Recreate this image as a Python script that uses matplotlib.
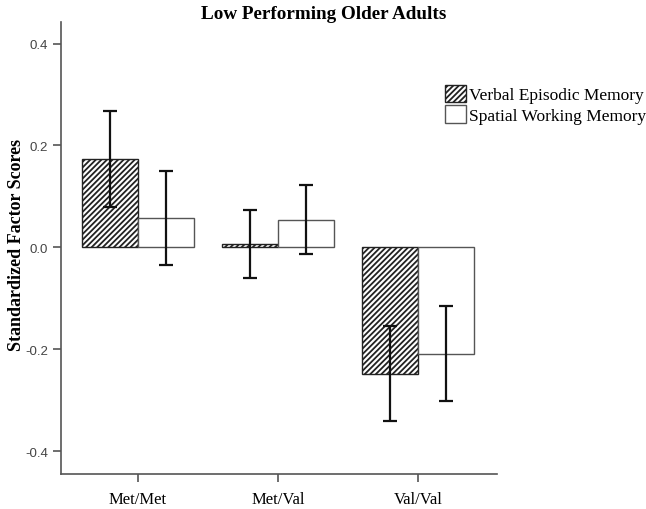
import matplotlib.pyplot as plt
from matplotlib.patches import Patch
import numpy as np

plt.rcParams['hatch.linewidth'] = 1.3

groups = ['Met/Met', 'Met/Val', 'Val/Val']
verbal = [0.174, 0.006, -0.248]
verbal_err = [0.094, 0.067, 0.093]
spatial = [0.057, 0.054, -0.209]
spatial_err = [0.092, 0.068, 0.093]
yticks = [-0.4, -0.2, 0.0, 0.2, 0.4]

serif = 'Liberation Serif'
sans = 'Liberation Sans'
edge = '#555555'

fig = plt.figure(figsize=(6.46, 5.10), dpi=100)
ax = fig.add_axes([0.0944, 0.0686, 0.6746, 0.887])

x = np.arange(len(groups))
w = 0.4
ax.bar(x - w/2, verbal, w, color='white', edgecolor='#222222', hatch='//////', linewidth=1.0)
ax.bar(x + w/2, spatial, w, color='white', edgecolor=edge, linewidth=1.0)
ax.errorbar(x - w/2, verbal, yerr=verbal_err, fmt='none', ecolor='#111111', elinewidth=1.6, capsize=5, capthick=1.6)
ax.errorbar(x + w/2, spatial, yerr=spatial_err, fmt='none', ecolor='#111111', elinewidth=1.6, capsize=5, capthick=1.6)

ax.set_xlim(-0.55, 2.56)
ax.set_ylim(-0.445, 0.443)
ax.set_xticks(x)
ax.set_xticklabels(groups, fontfamily=serif, fontsize=12)
ax.set_yticks(yticks)
ax.set_yticklabels([f'{v:.1f}' for v in yticks], fontfamily=sans, fontsize=9.5, color='#444444')
ax.tick_params(axis='both', length=6, width=1.2, color=edge)
ax.tick_params(axis='x', pad=6)
for s in ['top', 'right']:
    ax.spines[s].set_visible(False)
for s in ['left', 'bottom']:
    ax.spines[s].set_color(edge)
    ax.spines[s].set_linewidth(1.2)

# y label placed by hand, it sits close to the left edge
fig.text(17 / 646, 0.52, 'Standardized Factor Scores', fontfamily=serif, fontweight='bold',
         fontsize=13, rotation=90, ha='center', va='center')
fig.text(323.5 / 646, 0.962, 'Low Performing Older Adults', fontfamily=serif, fontweight='bold',
         fontsize=13.8, ha='center', va='baseline')

handles = [Patch(facecolor='white', edgecolor='#222222', hatch='//////', label='Verbal Episodic Memory'),
           Patch(facecolor='white', edgecolor=edge, label='Spatial Working Memory')]
fig.legend(handles=handles, loc='upper left', bbox_to_anchor=(445 / 646, 0.832), frameon=False,
           prop={'family': serif, 'size': 12.5}, handlelength=1.2, handleheight=1.2,
           handletextpad=0.2, labelspacing=0.1, borderaxespad=0, borderpad=0)

fig.savefig('out.png', dpi=100)
